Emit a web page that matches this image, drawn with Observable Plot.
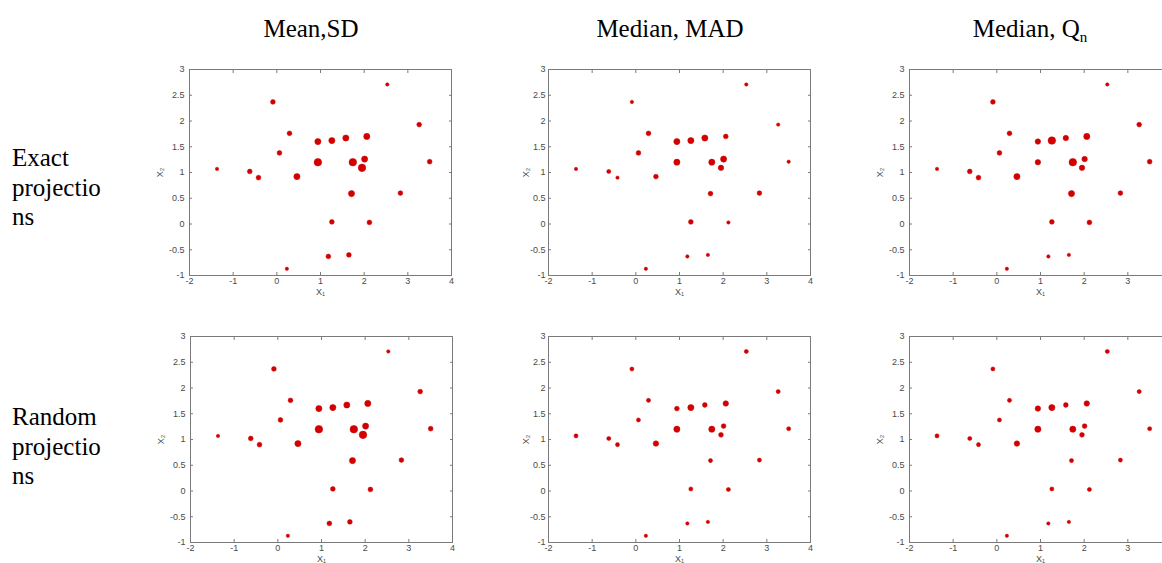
<!DOCTYPE html>
<html>
<head>
<meta charset="utf-8">
<script src="https://cdn.jsdelivr.net/npm/d3@7"></script>
<script src="https://cdn.jsdelivr.net/npm/@observablehq/plot@0.6"></script>
<style>
  html, body { margin: 0; padding: 0; background: #fff; }
  #page { position: relative; width: 1162px; height: 563px; overflow: hidden; background: #fff; }
  .ttl { position: absolute; font-family: "Liberation Serif", "Times New Roman", serif; font-size: 25px; line-height: 25px; color: #000; text-align: center; width: 200px; white-space: nowrap; }
  .row { position: absolute; font-family: "Liberation Serif", "Times New Roman", serif; font-size: 25px; line-height: 29.5px; color: #000; left: 12px; }
  .panel { position: absolute; }
  sub { font-size: 15px; vertical-align: -5px; line-height: 0; }
</style>
</head>
<body>
<div id="page"></div>
<script>
// Column and row labels
const columnTitles = ["Mean,SD", "Median, MAD", "Median, Q<sub>n</sub>"];
const rowLabels = ["Exact<br>projectio<br>ns", "Random<br>projectio<br>ns"];

// Tick values
const xTicks = [-2, -1, 0, 1, 2, 3, 4];
const yTicks = [-1, -0.5, 0, 0.5, 1, 1.5, 2, 2.5, 3];

// Point coordinates (same in every panel)
const xVals = [-1.37, -0.62, -0.42, -0.09, 0.29, 0.06, 0.46, 0.94, 0.94, 1.26, 1.58, 2.06, 1.74, 2.01, 1.95, 1.71, 1.26, 2.12, 1.18, 1.65, 0.23, 2.53, 3.26, 3.50, 2.83];
const yVals = [1.07, 1.02, 0.90, 2.37, 1.76, 1.38, 0.92, 1.60, 1.20, 1.62, 1.67, 1.70, 1.20, 1.26, 1.09, 0.59, 0.04, 0.03, -0.63, -0.60, -0.87, 2.71, 1.93, 1.21, 0.60];

// Point weights (marker size) per panel
const wMeanExact   = [1, 2, 2, 2, 2, 2, 3, 3, 4, 3, 3, 3, 4, 3, 4, 3, 2, 2, 2, 2, 1, 1, 2, 2, 2];
const wMadExact    = [1, 1.5, 1, 1, 2, 2, 2, 3, 3, 3, 3, 2, 3, 3, 2.5, 2, 2, 1, 1, 1, 1, 1, 1, 1, 2];
const wQnExact     = [1, 2, 2, 2, 2, 2, 3, 2.5, 2.5, 4, 2.5, 3, 4, 2.5, 2.5, 3, 2, 2, 1, 1, 1, 1, 2, 2, 2];
const wMeanRandom  = [1, 2, 2, 2, 2, 2, 3, 3, 4, 3, 3, 3, 4, 3, 4, 3, 2, 2, 2, 2, 1, 1, 2, 2, 2];
const wMadRandom   = [1.5, 1.5, 1.5, 1.5, 1.5, 1.5, 2.5, 2, 3, 3, 2, 2.5, 3, 2, 2, 1.5, 1.5, 1.5, 1, 1, 1, 1.5, 1.5, 1.5, 1.5];
const wQnRandom    = [1.5, 1.5, 1.5, 1.5, 1.5, 1.5, 2.5, 2.5, 3, 3, 2, 2.5, 3, 2, 2, 1.5, 1.5, 1.5, 1, 1, 1, 1.5, 1.5, 1.5, 1.5];

const page = document.getElementById("page");

const titleCenters = [311, 670, 1030];
columnTitles.forEach((t, i) => {
  const d = document.createElement("div");
  d.className = "ttl";
  d.innerHTML = t;
  d.style.left = (titleCenters[i] - 100) + "px";
  d.style.top = "16px";
  page.appendChild(d);
});
const rowTops = [143, 402];
rowLabels.forEach((t, i) => {
  const d = document.createElement("div");
  d.className = "row";
  d.innerHTML = t;
  d.style.top = rowTops[i] + "px";
  page.appendChild(d);
});

const panels = [
  {w: wMeanExact,  left: 139, top: 55,  yPad: 5, yOff: 33},
  {w: wMadExact,   left: 498, top: 55,  yPad: 3, yOff: 26},
  {w: wQnExact,    left: 859, top: 55,  yPad: 5, yOff: 33},
  {w: wMeanRandom, left: 140, top: 322, yPad: 5, yOff: 33},
  {w: wMadRandom,  left: 498, top: 322, yPad: 3, yOff: 26},
  {w: wQnRandom,   left: 859, top: 322, yPad: 5, yOff: 33}
];

const axisColor = "#7a7a7a";
const textColor = "#4a4a4a";

panels.forEach(p => {
  const data = xVals.map((x, i) => ({x, y: yVals[i], w: p.w[i]}));
  const chart = Plot.plot({
    width: 330,
    height: 251,
    marginLeft: 50,
    marginRight: 18,
    marginTop: 14,
    marginBottom: 31,
    x: {domain: [-2, 4]},
    y: {domain: [-1, 3]},
    r: {type: "linear", domain: [0, 4], range: [1.0, 3.8]},
    style: {fontFamily: "'Liberation Sans', Arial, sans-serif", fontSize: "9px", background: "transparent", overflow: "visible"},
    marks: [
      Plot.frame({stroke: axisColor}),
      Plot.axisX(xTicks, {anchor: "bottom", tickSize: -3, tickFormat: () => "", label: null, stroke: axisColor}),
      Plot.axisX(xTicks, {anchor: "top", tickSize: -3, tickFormat: () => "", label: null, stroke: axisColor}),
      Plot.axisY(yTicks, {anchor: "left", tickSize: -3, tickFormat: () => "", label: null, stroke: axisColor}),
      Plot.axisY(yTicks, {anchor: "right", tickSize: -3, tickFormat: () => "", label: null, stroke: axisColor}),
      Plot.axisX(xTicks, {anchor: "bottom", tickSize: 0, tickPadding: 2, tickFormat: d => String(d), fill: textColor,
        label: "X\u2081", labelAnchor: "center", labelOffset: 19, labelArrow: "none"}),
      Plot.axisY(yTicks, {anchor: "left", tickSize: 0, tickPadding: p.yPad, tickFormat: d => String(d), fill: textColor,
        label: "X\u2082", labelAnchor: "center", labelOffset: p.yOff, labelArrow: "none"}),
      Plot.dot(data, {x: "x", y: "y", r: "w", fill: "#d40000", stroke: "#c80000", strokeWidth: 0.5})
    ]
  });
  chart.classList.add("panel");
  chart.style.left = p.left + "px";
  chart.style.top = p.top + "px";
  page.appendChild(chart);
});
</script>
</body>
</html>
